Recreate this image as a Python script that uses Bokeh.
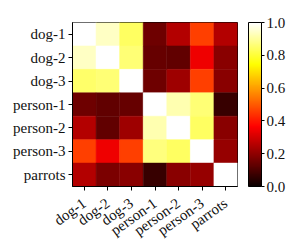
import numpy as np
from bokeh.plotting import figure
from bokeh.models import (ColumnDataSource, LinearColorMapper, ColorBar, FixedTicker,
                          PrintfTickFormatter, FactorRange)
from bokeh.embed import file_html
from bokeh.resources import INLINE

labels = ["dog-1", "dog-2", "dog-3", "person-1", "person-2", "person-3", "parrots"]

dog_1    = [1.00, 0.94, 0.84, 0.15, 0.25, 0.46, 0.25]
dog_2    = [0.94, 1.00, 0.86, 0.14, 0.13, 0.34, 0.19]
dog_3    = [0.85, 0.86, 1.00, 0.15, 0.22, 0.46, 0.19]
person_1 = [0.15, 0.13, 0.14, 1.00, 0.92, 0.86, 0.07]
person_2 = [0.25, 0.13, 0.22, 0.92, 1.00, 0.84, 0.19]
person_3 = [0.46, 0.34, 0.46, 0.87, 0.84, 1.00, 0.21]
parrots  = [0.25, 0.17, 0.19, 0.07, 0.19, 0.21, 1.00]

rows = [dog_1, dog_2, dog_3, person_1, person_2, person_3, parrots]
cbar_ticks = [0.0, 0.2, 0.4, 0.6, 0.8, 1.0]

# matplotlib "hot" colormap
t = np.linspace(0, 1, 256)
r = np.interp(t, [0, 0.365079, 1], [0.0416, 1, 1])
g = np.interp(t, [0, 0.365079, 0.746032, 1], [0, 0, 1, 1])
b = np.interp(t, [0, 0.746032, 1], [0, 0, 1])
hot = ["#%02x%02x%02x" % (int(round(rr * 255)), int(round(gg * 255)), int(round(bb * 255)))
       for rr, gg, bb in zip(r, g, b)]

xs, ys, vs = [], [], []
for i, row in enumerate(rows):
    for j, v in enumerate(row):
        xs.append(labels[j])
        ys.append(labels[i])
        vs.append(v)
src = ColumnDataSource(dict(x=xs, y=ys, v=vs))

mapper = LinearColorMapper(palette=hot, low=0.0, high=1.0)

FONT = "Liberation Serif"
FS = "15px"

p = figure(x_range=FactorRange(*labels), y_range=FactorRange(*labels[::-1]),
           frame_width=165, frame_height=164, output_backend="svg",
           toolbar_location=None, min_border_left=72, min_border_top=22,
           min_border_bottom=2, min_border_right=0)
p.rect(x="x", y="y", width=1, height=1, source=src,
       fill_color={"field": "v", "transform": mapper},
       line_color={"field": "v", "transform": mapper}, line_width=0.5)

p.grid.visible = False
p.outline_line_color = "black"
p.outline_line_width = 1
p.background_fill_color = "white"
p.border_fill_color = "white"
for ax in (p.xaxis, p.yaxis):
    ax.axis_line_color = "black"
    ax.major_tick_line_color = "black"
    ax.major_tick_in = 0
    ax.major_tick_out = 4
    ax.minor_tick_line_color = None
    ax.major_label_text_font = FONT
    ax.major_label_text_font_size = FS
    ax.major_label_text_color = "#111111"
    ax.major_label_standoff = 3
p.xaxis.major_label_orientation = 0.62
p.xaxis.major_label_standoff = 11

cb = ColorBar(color_mapper=mapper, width=13, height=164,
              ticker=FixedTicker(ticks=cbar_ticks),
              formatter=PrintfTickFormatter(format="%.1f"),
              major_tick_in=0, major_tick_out=3, major_tick_line_color="black",
              minor_tick_line_color=None,
              bar_line_color="black", bar_line_width=1,
              label_standoff=2, padding=0, margin=0,
              location=(11, 0),
              background_fill_alpha=0, border_line_color=None,
              major_label_text_font=FONT, major_label_text_font_size=FS,
              major_label_text_color="#111111")
p.add_layout(cb, "right")

open("out.html", "w").write(file_html(p, INLINE))
